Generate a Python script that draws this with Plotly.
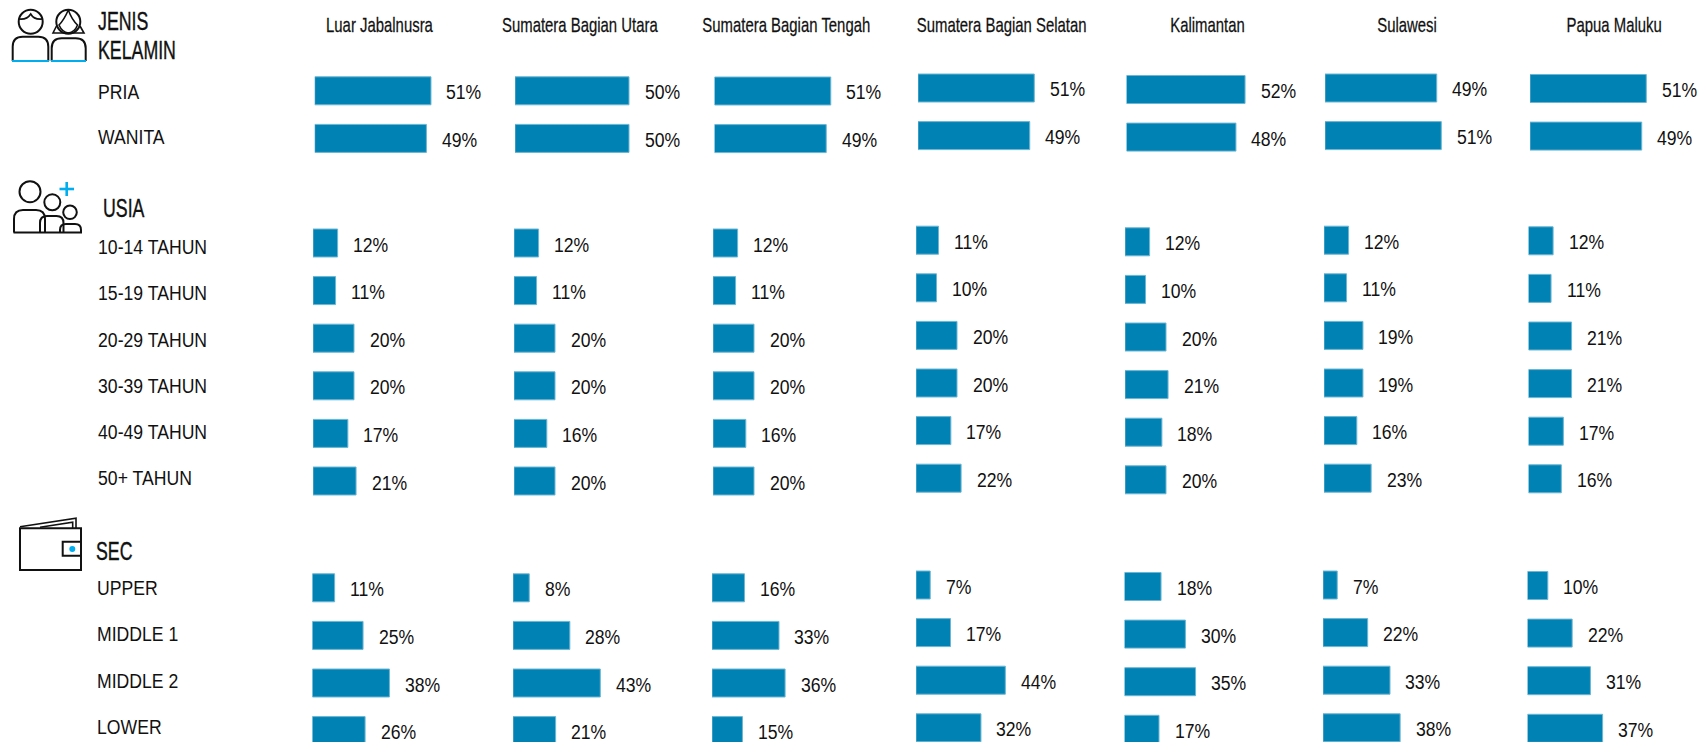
import plotly.graph_objects as go

regions = ["Luar Jabalnusra", "Sumatera Bagian Utara", "Sumatera Bagian Tengah",
           "Sumatera Bagian Selatan", "Kalimantan", "Sulawesi", "Papua Maluku"]
gender_cats = ["PRIA", "WANITA"]
age_cats = ["10-14 TAHUN", "15-19 TAHUN", "20-29 TAHUN", "30-39 TAHUN", "40-49 TAHUN", "50+ TAHUN"]
sec_cats = ["UPPER", "MIDDLE 1", "MIDDLE 2", "LOWER"]

pria = [51, 50, 51, 51, 52, 49, 51]
wanita = [49, 50, 49, 49, 48, 51, 49]
age_10_14 = [12, 12, 12, 11, 12, 12, 12]
age_15_19 = [11, 11, 11, 10, 10, 11, 11]
age_20_29 = [20, 20, 20, 20, 20, 19, 21]
age_30_39 = [20, 20, 20, 20, 21, 19, 21]
age_40_49 = [17, 16, 16, 17, 18, 16, 17]
age_50 = [21, 20, 20, 22, 20, 23, 16]
sec_upper = [11, 8, 16, 7, 18, 7, 10]
sec_m1 = [25, 28, 33, 17, 30, 22, 22]
sec_m2 = [38, 43, 36, 44, 35, 33, 31]
sec_lower = [26, 21, 15, 32, 17, 38, 37]

W, H = 1700, 742
FONT = "Liberation Sans, Arial, sans-serif"
BAR = "#0082B4"
EDGE = "#6DB6D3"
BLUE = "#00AEEF"
INK = "#111111"

# layout of the panels, in pixels of the page
groups = [
    dict(cats=gender_cats, rows=[pria, wanita], scale=2.28,
         x0=[314.7, 515, 714.5, 918, 1126.5, 1325, 1530],
         y0=[90.8, 90.8, 91, 88, 89.5, 88, 88.5]),
    dict(cats=age_cats, rows=[age_10_14, age_15_19, age_20_29, age_30_39, age_40_49, age_50], scale=2.05,
         x0=[313, 514, 713, 916, 1125, 1324, 1528.5],
         y0=[243, 243, 243, 240.2, 241.8, 240.2, 240.8]),
    dict(cats=sec_cats, rows=[sec_upper, sec_m1, sec_m2, sec_lower], scale=2.03,
         x0=[312.3, 513, 712, 916, 1124.5, 1323, 1527.5],
         y0=[587.8, 587.8, 587.8, 585, 586.5, 585, 585.5]),
]
STEP, BAR_H, AXIS_W, GAP = 47.6, 28, 170, 13.5

header_x = [379.5, 580, 786, 1001, 1207, 1407, 1614]
row_labels = [("PRIA", 96, 91.4), ("WANITA", 96, 137),
              ("10-14 TAHUN", 96, 246), ("15-19 TAHUN", 96, 292.5), ("20-29 TAHUN", 96, 339),
              ("30-39 TAHUN", 96, 385.5), ("40-49 TAHUN", 96, 431), ("50+ TAHUN", 96, 477.5),
              ("UPPER", 94.5, 587.4), ("MIDDLE 1", 94.5, 633.4), ("MIDDLE 2", 94.5, 680), ("LOWER", 94.5, 726.5)]
group_titles = [("JENIS", 96, 21), ("KELAMIN", 96, 50), ("USIA", 101, 208), ("SEC", 93.5, 551)]


def px(x):
    return x / W


def py(y):
    return 1 - y / H


fig = go.Figure()
annotations = []
layout = {}
n = 0
for g in groups:
    for c, region in enumerate(regions):
        n += 1
        vals = [r[c] for r in g["rows"]]
        x_id, y_id = f"x{n}", f"y{n}"
        top = g["y0"][c] - STEP / 2
        bottom = min(H, g["y0"][c] + (len(vals) - 0.5) * STEP)
        fig.add_trace(go.Bar(x=vals, y=g["cats"], orientation="h", xaxis=x_id, yaxis=y_id,
                             width=BAR_H / STEP, showlegend=False, name=region,
                             marker=dict(color=BAR, line=dict(color=EDGE, width=1))))
        layout[f"xaxis{n}"] = dict(domain=[px(g["x0"][c]), px(g["x0"][c] + AXIS_W)],
                                   range=[0, AXIS_W / g["scale"]], visible=False, anchor=y_id, fixedrange=True)
        layout[f"yaxis{n}"] = dict(domain=[py(bottom), py(top)],
                                   range=[(bottom - g["y0"][c]) / STEP, -0.5], type="category",
                                   categoryorder="array", categoryarray=g["cats"],
                                   visible=False, anchor=x_id, fixedrange=True)
        for cat, v in zip(g["cats"], vals):
            annotations.append(dict(x=v, y=cat, xref=x_id, yref=y_id, text=f"{v}%", showarrow=False,
                                    xanchor="left", xshift=GAP, yshift=-1,
                                    font=dict(family=FONT, size=21, color=INK)))


def page_text(text, x, y, size, anchor="left"):
    annotations.append(dict(x=px(x), y=py(y), xref="paper", yref="paper", text=text, showarrow=False,
                            xanchor=anchor, yanchor="middle",
                            font=dict(family=FONT, size=size, color=INK)))


css = [".annotation-text{transform:scaleX(.84);transform-box:fill-box;transform-origin:0 50%}"]
for name, x in zip(regions, header_x):
    css.append(f'.annotation[data-index="{len(annotations)}"] .annotation-text'
               "{transform:scaleX(.71);transform-origin:50% 50%;stroke:#111;stroke-width:.25px}")
    page_text(name, x, 25, 21, "center")
for label, x, y in row_labels:
    page_text(label, x, y, 21)
for label, x, y in group_titles:
    css.append(f'.annotation[data-index="{len(annotations)}"] .annotation-text'
               "{transform:scaleX(.67);stroke:#111;stroke-width:.4px}")
    page_text(label, x, y, 26.5)


# icons
def pth(d, color=INK, width=2):
    return dict(type="path", xref="paper", yref="paper", path=d, line=dict(color=color, width=width))


def P(*pts):
    out = []
    for p in pts:
        if isinstance(p, str):
            out.append(p)
        else:
            out.append(f"{px(p[0]):.5f},{py(p[1]):.5f}")
    return " ".join(out)


def circle(cx, cy, r, width=2):
    return dict(type="circle", xref="paper", yref="paper", x0=px(cx - r), x1=px(cx + r),
                y0=py(cy + r), y1=py(cy - r), line=dict(color=INK, width=width))


def arch(x0, x1, top, bottom, r=9):
    return P("M", (x0, bottom), "L", (x0, top + r), "Q", (x0, top), (x0 + r, top), "L", (x1 - r, top),
             "Q", (x1, top), (x1, top + r), "L", (x1, bottom))


def seg(x0, y0, x1, y1, color=INK, width=2):
    return dict(type="line", xref="paper", yref="paper", x0=px(x0), x1=px(x1), y0=py(y0), y1=py(y1),
                line=dict(color=color, width=width))


shapes = [
    circle(30.7, 21.7, 12),
    pth(P("M", (19, 19), "Q", (27, 20), (30.7, 14), "Q", (34, 20), (42.5, 19)), width=1.6),
    pth(arch(12.7, 48.3, 36.7, 61, 10)),
    seg(12, 61, 49, 61, BLUE, 2.2),
    circle(68.3, 21.7, 12),
    pth(P("M", (68.3, 10), "Q", (64, 20), (59, 25), "Q", (62, 32), (68.3, 33), "Q", (75, 32), (77.5, 25),
          "Q", (72, 20), (68.3, 10)), width=1.6),
    pth(P("M", (56.5, 26), "L", (53, 33), "L", (84, 33), "L", (80, 26)), width=1.6),
    pth(arch(51.7, 85.7, 38.3, 61, 10)),
    seg(51, 61, 86, 61, BLUE, 2.2),

    circle(30, 191.7, 10.5),
    circle(52.3, 202.3, 8),
    circle(70, 212.3, 6.8),
    pth(arch(14, 45, 210, 232.5, 9)),
    pth(arch(40, 63.5, 216, 232.5, 7)),
    pth(arch(60, 81, 224, 232.5, 6)),
    seg(13.5, 232.5, 82, 232.5),
    seg(59.5, 189, 74, 189, BLUE, 2.6),
    seg(66.7, 182, 66.7, 196, BLUE, 2.6),

    pth(P("M", (20, 528.3), "L", (81, 528.3), "L", (81, 570), "L", (20, 570), "Z")),
    pth(P("M", (20, 526.7), "L", (76, 518.3), "L", (76, 528)), width=1.6),
    pth(P("M", (40, 527.3), "L", (72.7, 522.3), "L", (72.7, 528)), width=1.6),
    pth(P("M", (81, 541.7), "L", (62.7, 541.7), "L", (62.7, 555.7), "L", (81, 555.7))),
    dict(type="circle", xref="paper", yref="paper", x0=px(69.3), x1=px(75.3), y0=py(552), y1=py(546),
         fillcolor=BLUE, line=dict(width=0)),
]

fig.update_layout(width=W, height=H, margin=dict(l=0, r=0, t=0, b=0), autosize=False,
                  paper_bgcolor="white", plot_bgcolor="white", showlegend=False,
                  annotations=annotations, shapes=shapes, **layout)

style_js = ("var s=document.createElement('style');s.textContent=" + repr("".join(css)) +
            ";document.head.appendChild(s);document.body.style.margin='0';document.body.style.overflow='hidden';")
fig.write_html("out.html", post_script=style_js, config={"displayModeBar": False})
